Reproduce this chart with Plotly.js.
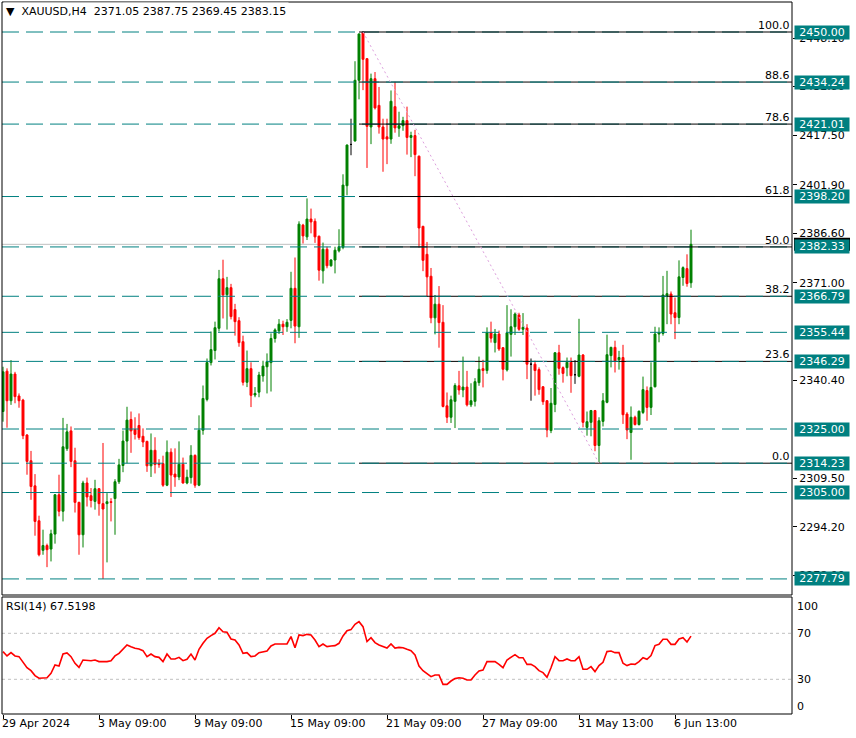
<!DOCTYPE html>
<html><head><meta charset="utf-8">
<script src="https://cdn.plot.ly/plotly-3.0.1.min.js"></script>
<style>html,body{margin:0;padding:0;background:#fff;overflow:hidden}#chart{width:856px;height:738px}</style>
</head><body><div id="chart"></div>
<script>
const symbol = "XAUUSD,H4";
const lastBar = ["2371.05", "2387.75", "2369.45", "2383.15"];

const opens = [2330.5,2343.2,2333.9,2342.3,2335.4,2334.1,2323.1,2315.0,2307.1,2296.1,
2286.8,2288.3,2287.2,2291.9,2304.3,2299.1,2318.8,2324.4,2315.0,2301.9,
2291.7,2308.0,2304.0,2302.2,2306.2,2301.5,2301.5,2302.1,2303.1,2308.4,
2313.5,2321.2,2328.0,2324.8,2326.1,2322.7,2321.1,2313.4,2318.3,2314.1,
2314.1,2307.3,2317.7,2310.8,2309.9,2313.9,2308.0,2309.7,2316.7,2307.3,
2324.6,2334.3,2345.9,2349.7,2356.7,2372.3,2367.3,2369.5,2362.6,2359.1,
2352.5,2339.7,2344.0,2335.7,2336.6,2341.7,2344.6,2345.9,2353.5,2355.9,
2358.0,2357.2,2359.2,2369.3,2357.2,2389.2,2385.5,2391.1,2390.4,2385.7,
2374.8,2381.6,2376.4,2378.2,2381.1,2382.2,2401.6,2414.6,2415.7,2434.8,
2450.0,2441.6,2420.1,2435.3,2426.9,2420.1,2417.0,2416.3,2426.5,2419.7,
2420.5,2422.1,2416.8,2417.4,2410.9,2388.8,2380.0,2373.1,2360.0,2364.3,
2358.6,2332.3,2328.7,2333.7,2338.6,2337.3,2338.2,2332.6,2333.7,2339.6,
2344.0,2343.4,2355.4,2352.2,2354.9,2350.6,2343.6,2354.8,2357.2,2360.9,
2356.4,2356.8,2345.4,2345.4,2343.7,2338.3,2333.9,2324.5,2332.7,2349.0,
2344.3,2344.3,2346.0,2342.1,2341.6,2348.3,2325.5,2327.1,2330.8,2319.8,
2327.4,2333.4,2348.1,2350.7,2346.8,2347.5,2329.7,2323.9,2328.7,2326.4,
2330.2,2337.1,2331.8,2338.3,2354.9,2355.1,2366.9,2367.5,2361.6,2360.1,
2372.7,2375.5,2371.05];
const highs = [2344.6,2344.1,2346.7,2343.0,2336.2,2334.5,2323.4,2318.1,2310.8,2297.7,
2293.3,2288.9,2293.3,2304.5,2310.6,2328.5,2326.6,2325.8,2319.1,2302.1,
2308.7,2309.7,2306.4,2309.0,2306.4,2320.6,2304.8,2303.2,2309.2,2315.6,
2324.5,2332.0,2330.5,2328.7,2329.9,2325.2,2321.3,2323.6,2322.4,2315.5,
2316.6,2321.4,2318.9,2318.9,2321.1,2316.0,2312.2,2319.9,2317.0,2329.3,
2338.7,2347.2,2355.7,2358.8,2375.1,2378.3,2372.9,2370.7,2364.4,2360.2,
2354.4,2349.7,2346.0,2338.2,2343.0,2346.5,2348.8,2355.1,2356.7,2359.6,
2359.1,2359.6,2374.5,2379.0,2390.4,2389.6,2397.6,2394.4,2391.3,2385.9,
2383.7,2382.4,2378.5,2382.4,2387.9,2405.2,2414.6,2422.7,2440.8,2449.5,
2450.0,2441.8,2436.9,2437.4,2432.7,2422.7,2422.7,2431.6,2434.3,2424.9,
2423.3,2426.5,2418.6,2419.2,2411.1,2389.0,2383.9,2375.7,2367.2,2370.0,
2364.0,2336.5,2335.5,2339.4,2343.3,2347.8,2343.3,2339.4,2341.0,2347.8,
2346.8,2357.0,2358.8,2356.5,2356.0,2350.8,2364.0,2362.7,2361.7,2361.6,
2361.5,2358.0,2347.2,2346.5,2344.4,2338.5,2334.1,2337.9,2349.2,2351.5,
2344.7,2347.5,2347.5,2346.7,2359.7,2348.6,2330.5,2331.0,2331.0,2328.7,
2336.3,2354.7,2350.9,2352.8,2349.6,2351.5,2330.3,2332.1,2329.2,2330.8,
2341.5,2338.4,2346.0,2357.2,2357.0,2373.2,2374.8,2368.3,2366.4,2378.1,
2376.2,2380.0,2387.75];
const lows = [2327.3,2325.4,2332.6,2333.1,2331.7,2321.8,2310.6,2302.7,2291.4,2284.9,
2285.4,2281.5,2283.3,2288.9,2297.5,2295.9,2318.1,2313.0,2298.7,2285.4,
2287.7,2300.6,2300.3,2299.6,2297.7,2277.79,2283.0,2295.9,2291.7,2307.7,
2311.4,2314.2,2317.5,2321.7,2321.6,2319.3,2311.5,2309.9,2311.0,2312.8,
2306.8,2307.0,2303.6,2306.8,2308.9,2307.8,2307.6,2307.8,2306.5,2307.0,
2323.2,2333.7,2345.0,2346.9,2355.7,2359.8,2356.3,2359.5,2354.4,2350.9,
2338.7,2338.2,2331.9,2335.0,2335.0,2339.9,2336.2,2336.8,2352.2,2354.9,
2354.6,2355.6,2356.7,2352.0,2353.7,2383.4,2384.5,2386.6,2383.6,2371.7,
2370.8,2375.6,2376.1,2374.0,2380.6,2381.6,2398.6,2411.2,2415.5,2428.8,
2431.7,2407.2,2414.7,2425.6,2418.0,2406.0,2408.4,2414.8,2418.3,2417.0,
2418.9,2411.4,2410.6,2404.6,2382.1,2374.7,2366.6,2358.3,2354.8,2350.6,
2331.8,2326.9,2326.9,2325.3,2335.8,2335.0,2332.1,2331.9,2332.1,2338.6,
2338.1,2342.4,2352.2,2349.1,2349.6,2340.3,2343.1,2347.8,2354.6,2355.9,
2354.6,2340.7,2333.9,2335.5,2335.8,2332.6,2322.4,2323.7,2330.3,2342.1,
2339.6,2341.6,2336.4,2339.2,2341.3,2325.5,2322.9,2322.7,2318.0,2314.23,
2325.8,2333.1,2344.4,2342.8,2343.7,2326.6,2321.8,2315.3,2326.1,2326.1,
2329.7,2327.6,2329.4,2338.1,2352.3,2354.4,2358.0,2358.0,2353.3,2358.0,
2370.1,2369.8,2369.45];
const closes = [2343.0,2333.9,2342.3,2335.2,2333.9,2322.9,2314.8,2306.9,2295.9,2285.4,
2288.3,2287.0,2292.0,2304.3,2299.1,2319.4,2324.1,2314.8,2301.9,2291.7,
2308.0,2303.6,2302.5,2306.2,2301.5,2299.8,2302.1,2301.9,2308.4,2313.7,
2321.2,2327.8,2324.4,2323.3,2322.3,2320.9,2313.4,2318.3,2313.8,2313.8,
2307.3,2317.7,2310.5,2309.9,2313.9,2308.0,2309.8,2316.7,2307.3,2324.6,
2334.6,2345.9,2350.0,2356.9,2372.3,2367.2,2369.5,2360.4,2358.8,2352.2,
2339.7,2344.0,2335.6,2336.2,2342.0,2344.8,2346.2,2353.5,2356.2,2358.0,
2357.2,2358.6,2369.3,2357.4,2389.5,2385.8,2391.1,2390.2,2385.5,2375.0,
2381.6,2376.4,2378.2,2381.3,2382.4,2401.8,2414.4,2414.6,2434.8,2449.4,
2441.4,2420.3,2435.3,2426.1,2420.1,2416.3,2416.3,2428.2,2419.8,2420.5,
2422.1,2416.8,2417.4,2411.4,2388.3,2378.1,2372.9,2360.0,2364.3,2358.5,
2332.1,2328.7,2334.2,2338.7,2337.3,2338.2,2332.6,2333.9,2339.9,2343.8,
2343.4,2355.4,2353.6,2354.9,2350.2,2343.8,2355.3,2357.2,2361.2,2356.4,
2357.0,2345.4,2345.4,2343.4,2337.4,2333.6,2324.7,2333.1,2349.0,2344.1,
2342.5,2346.0,2341.8,2342.1,2348.3,2327.1,2327.3,2330.8,2319.8,2327.6,
2333.9,2348.4,2350.7,2346.5,2347.5,2329.5,2324.7,2328.7,2326.4,2330.6,
2337.4,2331.8,2338.1,2354.9,2355.3,2367.2,2367.6,2361.2,2360.1,2372.9,
2375.8,2370.8,2383.15];

const rsi = [54.1,50.3,53.2,50.3,49.7,45.4,40.1,37.5,33.2,30.9,
31.4,31.4,35.2,42.5,41.6,52.0,52.9,49.7,43.9,40.4,
46.8,46.2,46.2,46.8,45.4,45.4,45.4,46.2,50.3,52.6,
56.1,59.9,58.4,57.0,56.4,54.9,49.7,52.0,49.7,49.1,
45.4,52.0,47.7,47.7,49.1,46.2,47.4,52.0,46.8,56.1,
61.3,65.7,68.0,70.0,74.9,71.4,70.9,65.1,64.2,59.9,
52.6,53.2,49.7,50.3,53.2,54.1,54.6,59.0,60.7,60.7,
60.7,60.7,67.1,57.5,68.6,68.0,69.1,68.6,64.2,58.4,
60.7,58.4,59.0,59.3,61.3,67.7,72.3,73.2,77.8,80.1,
75.8,62.8,66.2,61.9,59.9,58.4,57.2,60.7,57.2,57.8,
57.5,56.1,54.9,51.2,41.6,37.5,35.2,32.3,33.8,33.8,
25.6,25.6,28.5,30.6,31.4,30.9,29.4,29.4,33.8,37.2,
38.1,45.4,45.4,45.4,43.0,40.1,46.8,49.1,51.4,48.8,
48.8,43.0,43.0,41.0,37.5,35.8,31.7,40.1,49.7,46.2,
46.2,47.7,46.2,46.2,49.7,38.7,38.7,41.0,36.7,41.9,
44.8,54.1,54.6,53.2,53.2,43.9,41.9,43.3,43.0,45.4,
48.8,47.4,50.6,59.3,60.4,64.8,64.8,60.4,60.4,65.1,
66.2,62.5,67.52];
const rsiLabel = "RSI(14) 67.5198";
const rsiLevels = [70, 30];
const rsiAxisLabels = [100, 70, 30, 0];

const dateLabels = ["29 Apr 2024", "3 May 09:00", "9 May 09:00", "15 May 09:00", "21 May 09:00", "27 May 09:00", "31 May 13:00", "6 Jun 13:00"];
const dateLabelBars = [0, 24, 48, 72, 96, 120, 144, 168];

// price scale labels that are at least partly visible in the reference
const priceTicks = [2448.10, 2432.80, 2417.50, 2401.90, 2386.60, 2371.00, 2340.40, 2309.50, 2294.20, 2278.90];
const levelPrices = [2450.00, 2434.24, 2421.01, 2398.20, 2382.33, 2366.79, 2355.44, 2346.29, 2325.00, 2314.23, 2305.00, 2277.79];
const fibRatios = ["100.0", "88.6", "78.6", "61.8", "50.0", "38.2", "23.6", "0.0"];
const fibPrices = [2450.00, 2434.24, 2421.01, 2398.20, 2382.33, 2366.79, 2346.29, 2314.23];
const bidPrice = 2383.15;

// ---------- build ----------
const FONT = 'DejaVu Sans';
const GREEN = '#008000', RED = '#FF0000', TEAL = '#008080';
const bars = opens.map((_, i) => i);
const xRange = [-0.25, 197.25];

function subset(test) {
  const idx = bars.filter(test);
  return {x: idx, open: idx.map(i => opens[i]), high: idx.map(i => highs[i]),
          low: idx.map(i => lows[i]), close: idx.map(i => closes[i])};
}
function candle(s, color) {
  return Object.assign({
    type: 'candlestick', xaxis: 'x', yaxis: 'y', whiskerwidth: 0,
    increasing: {line: {color: color, width: 1}, fillcolor: color},
    decreasing: {line: {color: color, width: 1}, fillcolor: color},
    hoverinfo: 'skip', showlegend: false
  }, s);
}
const traces = [
  candle(subset(i => closes[i] > opens[i]), GREEN),
  candle(subset(i => closes[i] < opens[i]), RED),
  candle(subset(i => closes[i] === opens[i]), '#000000'),
  {type: 'scatter', mode: 'lines', x: bars, y: rsi, xaxis: 'x', yaxis: 'y2',
   line: {color: RED, width: 1.6}, hoverinfo: 'skip', showlegend: false}
];

// anchors of the fibonacci
let hiIdx = 0;
highs.forEach((h, i) => { if (h > highs[hiIdx]) hiIdx = i; });
let loIdx = hiIdx;
for (let i = hiIdx; i < lows.length; i++) if (lows[i] < lows[loIdx]) loIdx = i;

const shapes = [];
shapes.push({type: 'line', xref: 'paper', x0: 0, x1: 1, yref: 'y', y0: bidPrice, y1: bidPrice,
             line: {color: '#C0C0C0', width: 1}, layer: 'below'});
const fibUnder = ["88.6", "38.2", "23.6", "0.0"];
function fibLine(k) {
  return {type: 'line', xref: 'x', x0: hiIdx - 1, x1: xRange[1], yref: 'y', y0: fibPrices[k], y1: fibPrices[k],
          line: {color: '#000', width: 1}, layer: 'above'};
}
fibRatios.forEach((r, k) => { if (fibUnder.includes(r)) shapes.push(fibLine(k)); });
levelPrices.forEach(p => shapes.push({type: 'line', xref: 'paper', x0: 0, x1: 1, yref: 'y', y0: p, y1: p,
  line: {color: TEAL, width: 1, dash: '17px,7px'}, layer: 'above'}));
fibRatios.forEach((r, k) => { if (!fibUnder.includes(r)) shapes.push(fibLine(k)); });
shapes.push({type: 'line', xref: 'x', yref: 'y', x0: hiIdx, y0: highs[hiIdx], x1: loIdx, y1: lows[loIdx],
             line: {color: '#DDA0DD', width: 1, dash: '2px,3px'}, layer: 'above'});
rsiLevels.forEach(v => shapes.push({type: 'line', xref: 'paper', x0: 0, x1: 1, yref: 'y2', y0: v, y1: v,
  line: {color: '#C0C0C0', width: 1, dash: '3px,3px'}, layer: 'below'}));
shapes.push({type: 'rect', xref: 'paper', x0: 0, x1: 1, yref: 'y domain', y0: 0, y1: 1, line: {color: '#000', width: 1}, layer: 'above'});
shapes.push({type: 'rect', xref: 'paper', x0: 0, x1: 1, yref: 'y2 domain', y0: 0, y1: 1, line: {color: '#000', width: 1}, layer: 'above'});
// black bid-price marker on the price scale (mostly hidden behind the 2382.33 box)
shapes.push({type: 'rect', xref: 'paper', xsizemode: 'pixel', xanchor: 1, x0: 2, x1: 58,
             yref: 'y', ysizemode: 'pixel', yanchor: bidPrice, y0: -6.5, y1: 6.5,
             fillcolor: '#000', line: {width: 0}, layer: 'above'});

const annotations = [];
// title
annotations.push({xref: 'paper', yref: 'paper', x: 0, y: 1, xanchor: 'left', yanchor: 'top', xshift: 1,
  text: '\u25BC\u00A0\u00A0' + symbol + '\u00A0\u00A0' + lastBar.join(' '), showarrow: false, bgcolor: '#fff', borderpad: 2,
  font: {family: FONT, size: 11, color: '#000'}});
// fib labels
fibRatios.forEach((r, k) => annotations.push({xref: 'paper', yref: 'y', x: 1, y: fibPrices[k], xanchor: 'right', yanchor: 'bottom',
  xshift: -1, yshift: -1, text: r, showarrow: false, borderpad: 0, font: {family: FONT, size: 11, color: '#000'}}));
levelPrices.forEach(p => annotations.push({xref: 'paper', yref: 'y', x: 1, y: p, xanchor: 'left', yanchor: 'middle', xshift: 2,
  text: p.toFixed(2), showarrow: false, bgcolor: TEAL, width: 52, height: 11, borderpad: 1, align: 'center',
  font: {family: FONT, size: 11, color: '#fff'}}));
// RSI label + axis labels
annotations.push({xref: 'paper', yref: 'y2 domain', x: 0, y: 1, xanchor: 'left', yanchor: 'top', xshift: 3, yshift: -2,
  text: rsiLabel, showarrow: false, borderpad: 0, font: {family: FONT, size: 11, color: '#000'}});
rsiAxisLabels.forEach(v => annotations.push({xref: 'paper', yref: 'y2', x: 1, y: v, xanchor: 'left',
  yanchor: v === 100 ? 'top' : (v === 0 ? 'bottom' : 'middle'), xshift: 4, text: String(v), showarrow: false, borderpad: 0,
  font: {family: FONT, size: 11, color: '#000'}}));
// date labels
dateLabels.forEach((t, k) => annotations.push({xref: 'x', yref: 'paper', x: dateLabelBars[k], y: 0, xanchor: 'left', yanchor: 'top',
  xshift: -2, yshift: -2, text: t, showarrow: false, borderpad: 0, font: {family: FONT, size: 11, color: '#000'}}));

const layout = {
  width: 856, height: 738,
  margin: {l: 2, r: 64, t: 2, b: 24, pad: 0},
  paper_bgcolor: '#fff', plot_bgcolor: '#fff',
  showlegend: false, boxgap: 0.3, boxgroupgap: 0.3,
  font: {family: FONT, size: 11, color: '#000'},
  xaxis: {domain: [0, 1], range: xRange, anchor: 'y2', showgrid: false, zeroline: false, showline: false,
          ticks: 'outside', ticklen: 4, tickcolor: '#000', tickvals: dateLabelBars, showticklabels: false,
          rangeslider: {visible: false}, automargin: false},
  yaxis: {domain: [0.16713, 1], range: [2272.73, 2459.45], side: 'right', anchor: 'x', showgrid: false, zeroline: false,
          showline: false, ticks: 'outside', ticklen: 4, tickcolor: '#000', tickvals: priceTicks,
          ticktext: priceTicks.map(v => v.toFixed(2)), tickfont: {family: FONT, size: 11, color: '#000'}, automargin: false},
  yaxis2: {domain: [0, 0.16433], range: [-0.17, 101.57], side: 'right', anchor: 'x', showgrid: false, zeroline: false,
           showline: false, showticklabels: false, ticks: '', automargin: false},
  shapes: shapes,
  annotations: annotations
};
Plotly.newPlot('chart', traces, layout, {staticPlot: true, displayModeBar: false});
</script>
</body></html>
